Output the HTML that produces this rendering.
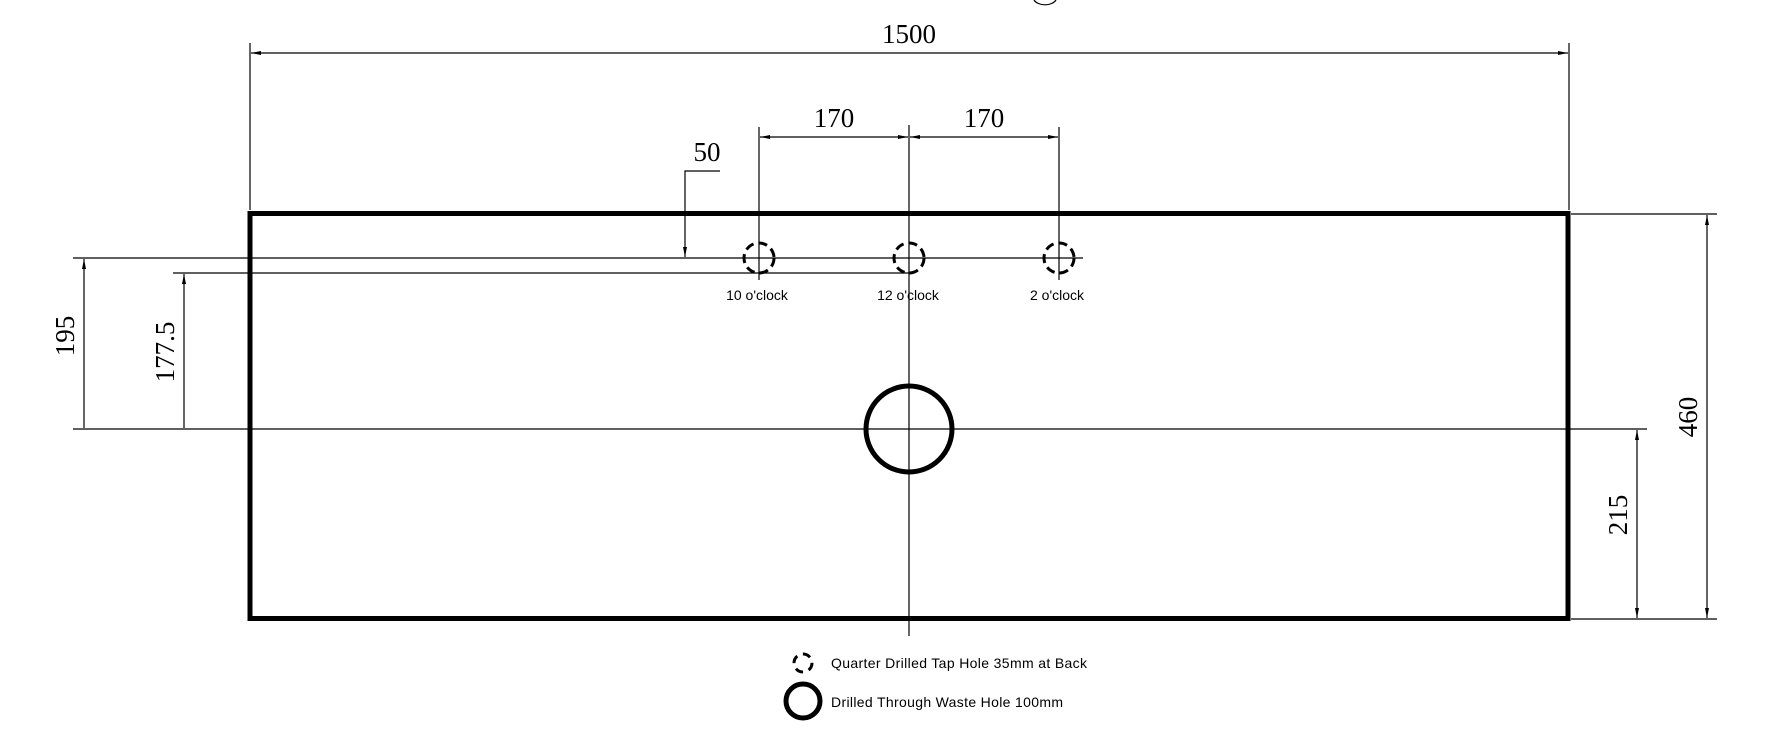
<!DOCTYPE html>
<html><head><meta charset="utf-8"><style>
html,body{margin:0;padding:0;background:#fff;}
svg{display:block;}
.d{font-family:"Liberation Serif",serif;font-size:27px;fill:#000;}
.s{font-family:"Liberation Sans",sans-serif;font-size:14px;fill:#000;}
</style></head><body>
<svg width="1777" height="748" viewBox="0 0 1777 748" xmlns="http://www.w3.org/2000/svg">
<defs>
<marker id="a" viewBox="0 0 10 4" refX="10" refY="2" markerWidth="10" markerHeight="4" orient="auto-start-reverse" markerUnits="userSpaceOnUse"><path d="M0,0 L10,2 L0,4 z" fill="#000"/></marker>
</defs>
<g stroke="#000" stroke-width="1.2" fill="none">
<path d="M1034,0 A12,8 0 0 0 1056,0"/>
<line x1="250" y1="43" x2="250" y2="210"/>
<line x1="1569" y1="43" x2="1569" y2="210"/>
<line x1="251" y1="53" x2="1568" y2="53" marker-start="url(#a)" marker-end="url(#a)"/>
<line x1="759" y1="127" x2="759" y2="280"/>
<line x1="1059" y1="127" x2="1059" y2="280"/>
<line x1="909" y1="125" x2="909" y2="636"/>
<line x1="760" y1="137" x2="908" y2="137" marker-start="url(#a)" marker-end="url(#a)"/>
<line x1="910" y1="137" x2="1058" y2="137" marker-start="url(#a)" marker-end="url(#a)"/>
<polyline points="720,171 685,171 685,257" marker-end="url(#a)"/>
<line x1="73" y1="258" x2="1083" y2="258"/>
<line x1="173" y1="273" x2="909" y2="273"/>
<line x1="73" y1="429" x2="1647" y2="429"/>
<line x1="84" y1="259" x2="84" y2="428" marker-start="url(#a)"/>
<line x1="184" y1="274" x2="184" y2="428" marker-start="url(#a)"/>
<line x1="1571" y1="214" x2="1717" y2="214"/>
<line x1="1571" y1="619" x2="1717" y2="619"/>
<line x1="1707" y1="215" x2="1707" y2="618" marker-start="url(#a)" marker-end="url(#a)"/>
<line x1="1637" y1="430" x2="1637" y2="618" marker-start="url(#a)" marker-end="url(#a)"/>
</g>
<rect x="250" y="213.5" width="1318" height="405" fill="none" stroke="#000" stroke-width="5"/>
<g fill="none" stroke="#000" stroke-width="3" stroke-dasharray="9,5">
<circle cx="759" cy="258" r="15"/>
<circle cx="909" cy="258" r="15"/>
<circle cx="1059" cy="258" r="15"/>
<circle cx="803" cy="663" r="9" stroke-dasharray="8,6"/>
</g>
<circle cx="909" cy="429" r="43" fill="none" stroke="#000" stroke-width="5"/>
<circle cx="803" cy="701" r="17" fill="none" stroke="#000" stroke-width="5"/>
<text class="d" x="909" y="43" text-anchor="middle">1500</text>
<text class="d" x="834" y="127" text-anchor="middle">170</text>
<text class="d" x="984" y="127" text-anchor="middle">170</text>
<text class="d" x="707" y="161" text-anchor="middle">50</text>
<text class="d" transform="translate(74,336) rotate(-90)" text-anchor="middle">195</text>
<text class="d" transform="translate(174,352) rotate(-90)" text-anchor="middle">177.5</text>
<text class="d" transform="translate(1627,515) rotate(-90)" text-anchor="middle">215</text>
<text class="d" transform="translate(1697,417) rotate(-90)" text-anchor="middle">460</text>
<text class="s" x="757" y="300" text-anchor="middle">10 o'clock</text>
<text class="s" x="908" y="300" text-anchor="middle">12 o'clock</text>
<text class="s" x="1057" y="300" text-anchor="middle">2 o'clock</text>
<text class="s" x="831" y="668" textLength="256">Quarter Drilled Tap Hole 35mm at Back</text>
<text class="s" x="831" y="707" textLength="232">Drilled Through Waste Hole 100mm</text>
</svg>
</body></html>
